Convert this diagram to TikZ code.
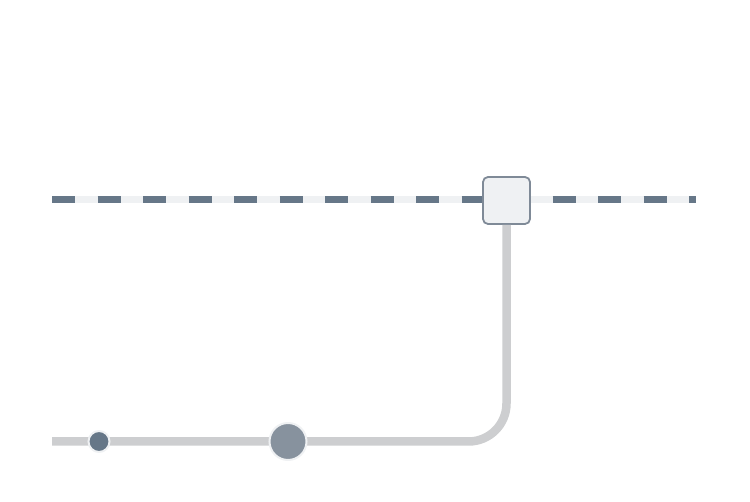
\documentclass[tikz,border=0pt]{standalone}
\usepackage{tikz}
\usetikzlibrary{positioning}
\definecolor{slatedark}{HTML}{667788}
\definecolor{slatemid}{HTML}{87929E}
\definecolor{slateline}{HTML}{7F8A97}
\definecolor{trackbg}{HTML}{EFF1F3}
\definecolor{railgray}{HTML}{CDCED0}

\begin{document}
\begin{tikzpicture}[x=1pt,y=-1pt,
                    track/.style={line width=7pt,line cap=butt},
                    rail/.style={line width=8.5pt,draw=railgray,rounded corners=38pt},
                    switchbox/.style={rectangle,rounded corners=5pt,draw=slateline,
                                      line width=1.8pt,fill=trackbg,
                                      minimum width=47pt,minimum height=47pt},
                    stop/.style={circle,inner sep=0pt,draw=trackbg,line width=2pt}]
  \useasboundingbox (0,0) rectangle (750,502);
  % main line
  \coordinate (trackW) at (52,200);
  \coordinate (trackE) at (696,200);
  \draw[track,draw=trackbg] (trackW) -- (trackE);
  \draw[track,draw=slatedark,dash pattern=on 23pt off 22.5pt] (trackW) -- (trackE);
  % branch
  \node[switchbox] (sw) at (506.5,200.5) {};
  \coordinate (railW) at (52,441.5);
  \draw[rail] (sw.south) |- (railW);
  \node[stop,fill=slatedark,minimum size=21pt] (stopA) at (99,441.5) {};
  \node[stop,fill=slatemid,minimum size=37pt] (stopB) at (288,441.5) {};
\end{tikzpicture}
\end{document}
